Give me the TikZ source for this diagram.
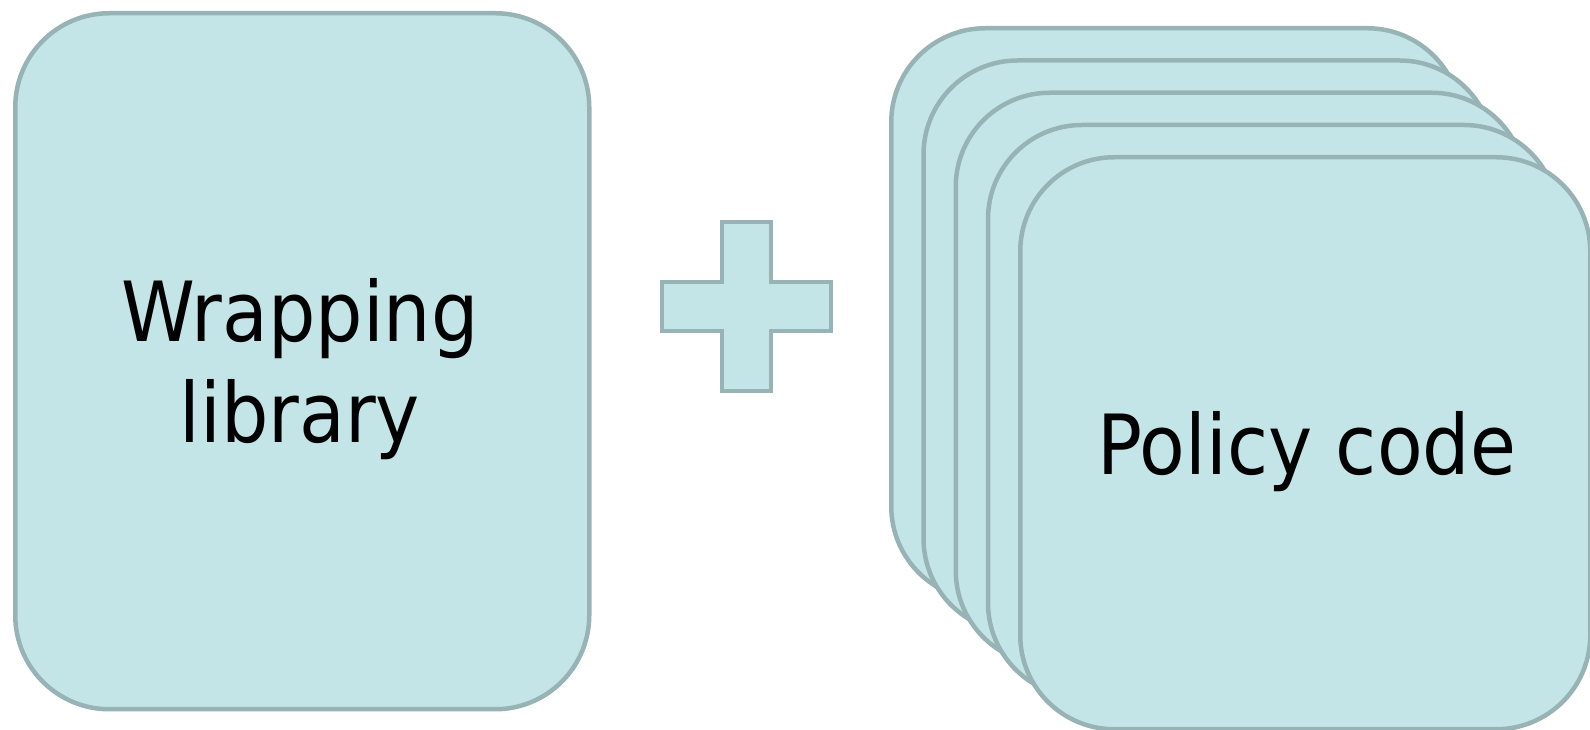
\documentclass[tikz,border=0pt]{standalone}
\usepackage{fontspec}
\newfontfamily\labfont{DejaVu Sans Condensed}
\definecolor{boxfill}{HTML}{C4E5E7}
\definecolor{boxline}{HTML}{98B3B6}
\begin{document}
\begin{tikzpicture}[x=1pt,y=1pt,
  card/.style={draw=boxline,fill=boxfill,line width=4.5pt,rounded corners=94pt,
    minimum width=570pt,minimum height=572pt,inner sep=0pt,anchor=north west},
  lab/.style={font=\labfont\fontsize{83}{101}\selectfont,text=black,inner sep=0pt,anchor=base}]
\useasboundingbox (0,0) rectangle (1590,730);
% wrapping library box
\node[card,minimum width=574pt,minimum height=696pt] (wrap) at (13,719) {};
\node[lab] (wrap1) at (300,388) {Wrapping};
\node[lab] (wrap2) at (300,287) {library};
% plus sign
\draw[draw=boxline,fill=boxfill,line width=4.5pt,miter limit=10]
  (722,508) -- (771,508) -- (771,448) -- (831,448) -- (831,399) -- (771,399)
  -- (771,339) -- (722,339) -- (722,399) -- (662,399) -- (662,448) -- (722,448) -- cycle;
% policy stack
\foreach \i in {0,...,4}{
  \node[card] (pol\i) at ({889+32.25*\i},{704-32.25*\i}) {};
}
\node[lab] (poltext) at (1307,255) {Policy code};
\end{tikzpicture}
\end{document}
